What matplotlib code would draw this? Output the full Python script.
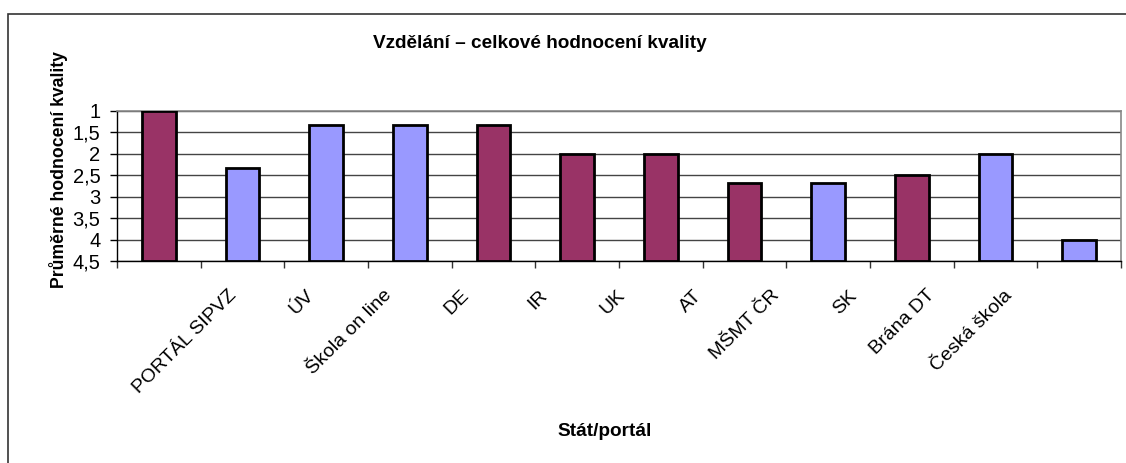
import numpy as np
import matplotlib
matplotlib.use("Agg")
import matplotlib.pyplot as plt
from matplotlib.patches import Rectangle

plt.rcParams["font.family"] = ["Liberation Sans", "DejaVu Sans"]

# categories (first one has no visible label in the original)
labels = ["", "PORTÁL SIPVZ", "ÚV", "Škola on line", "DE", "IR", "UK", "AT",
          "MŠMT ČR", "SK", "Brána DT", "Česká škola"]
values = [1.0, 2.33, 1.33, 1.33, 1.33, 2.0, 2.0, 2.67, 2.67, 2.5, 2.0, 4.0]
is_country = [True, False, False, False, True, True, True, True, False, True, False, False]
yticks = [1, 1.5, 2, 2.5, 3, 3.5, 4, 4.5]
ytick_labels = ["1", "1,5", "2", "2,5", "3", "3,5", "4", "4,5"]

maroon = "#993366"
lilac = "#9999FF"

fig = plt.figure(figsize=(11.26, 4.63), dpi=100)
ax = fig.add_axes([117 / 1126, 1 - 261 / 463, 1004 / 1126, 150 / 463])

x = np.arange(len(values))
base = 4.5
colors = [maroon if c else lilac for c in is_country]
ax.bar(x, [v - base for v in values], bottom=base, width=0.4,
       color=colors, edgecolor="black", linewidth=2.0, zorder=3)

ax.set_xlim(-0.5, len(values) - 0.5)
ax.set_ylim(base, 1)

ax.set_yticks(yticks)
ax.set_yticklabels(ytick_labels, fontsize=14.5)
ax.yaxis.grid(True, color="#444444", linewidth=1.0, zorder=0)

# the category labels sit a little compressed to the left, as in the original
label_pos = 0.9 + (x - 1) * 0.927
ax.set_xticks(label_pos)
ax.set_xticklabels(labels, rotation=45, ha="right", va="center",
                   rotation_mode="anchor", fontsize=14)
ax.tick_params(axis="x", which="major", length=0, pad=23)
ax.set_xticks(np.arange(-0.5, len(values)), minor=True)
ax.tick_params(axis="x", which="minor", length=5, width=1, color="#333333")
ax.tick_params(axis="y", length=5, width=1, pad=7)

for side in ["top", "right"]:
    ax.spines[side].set_color("#888888")
    ax.spines[side].set_linewidth(1.2)
for side in ["left", "bottom"]:
    ax.spines[side].set_color("black")
    ax.spines[side].set_linewidth(1.0)

fig.text(540 / 1126, 1 - 43 / 463, "Vzdělání – celkové hodnocení kvality",
         ha="center", va="center", fontsize=13.7, fontweight="bold")
fig.text(58 / 1126, 1 - 170 / 463, "Průměrné hodnocení kvality",
         ha="center", va="center", rotation=90, fontsize=12.7, fontweight="bold")
fig.text(605 / 1126, 1 - 432 / 463, "Stát/portál",
         ha="center", va="center", fontsize=13.7, fontweight="bold")

# outer chart frame
fig.patches.append(Rectangle((8 / 1126, -0.1), 1.2, (463 - 14) / 463 + 0.1,
                             transform=fig.transFigure, fill=False,
                             edgecolor="#333333", linewidth=1.2))

fig.savefig("out.png", dpi=100)
